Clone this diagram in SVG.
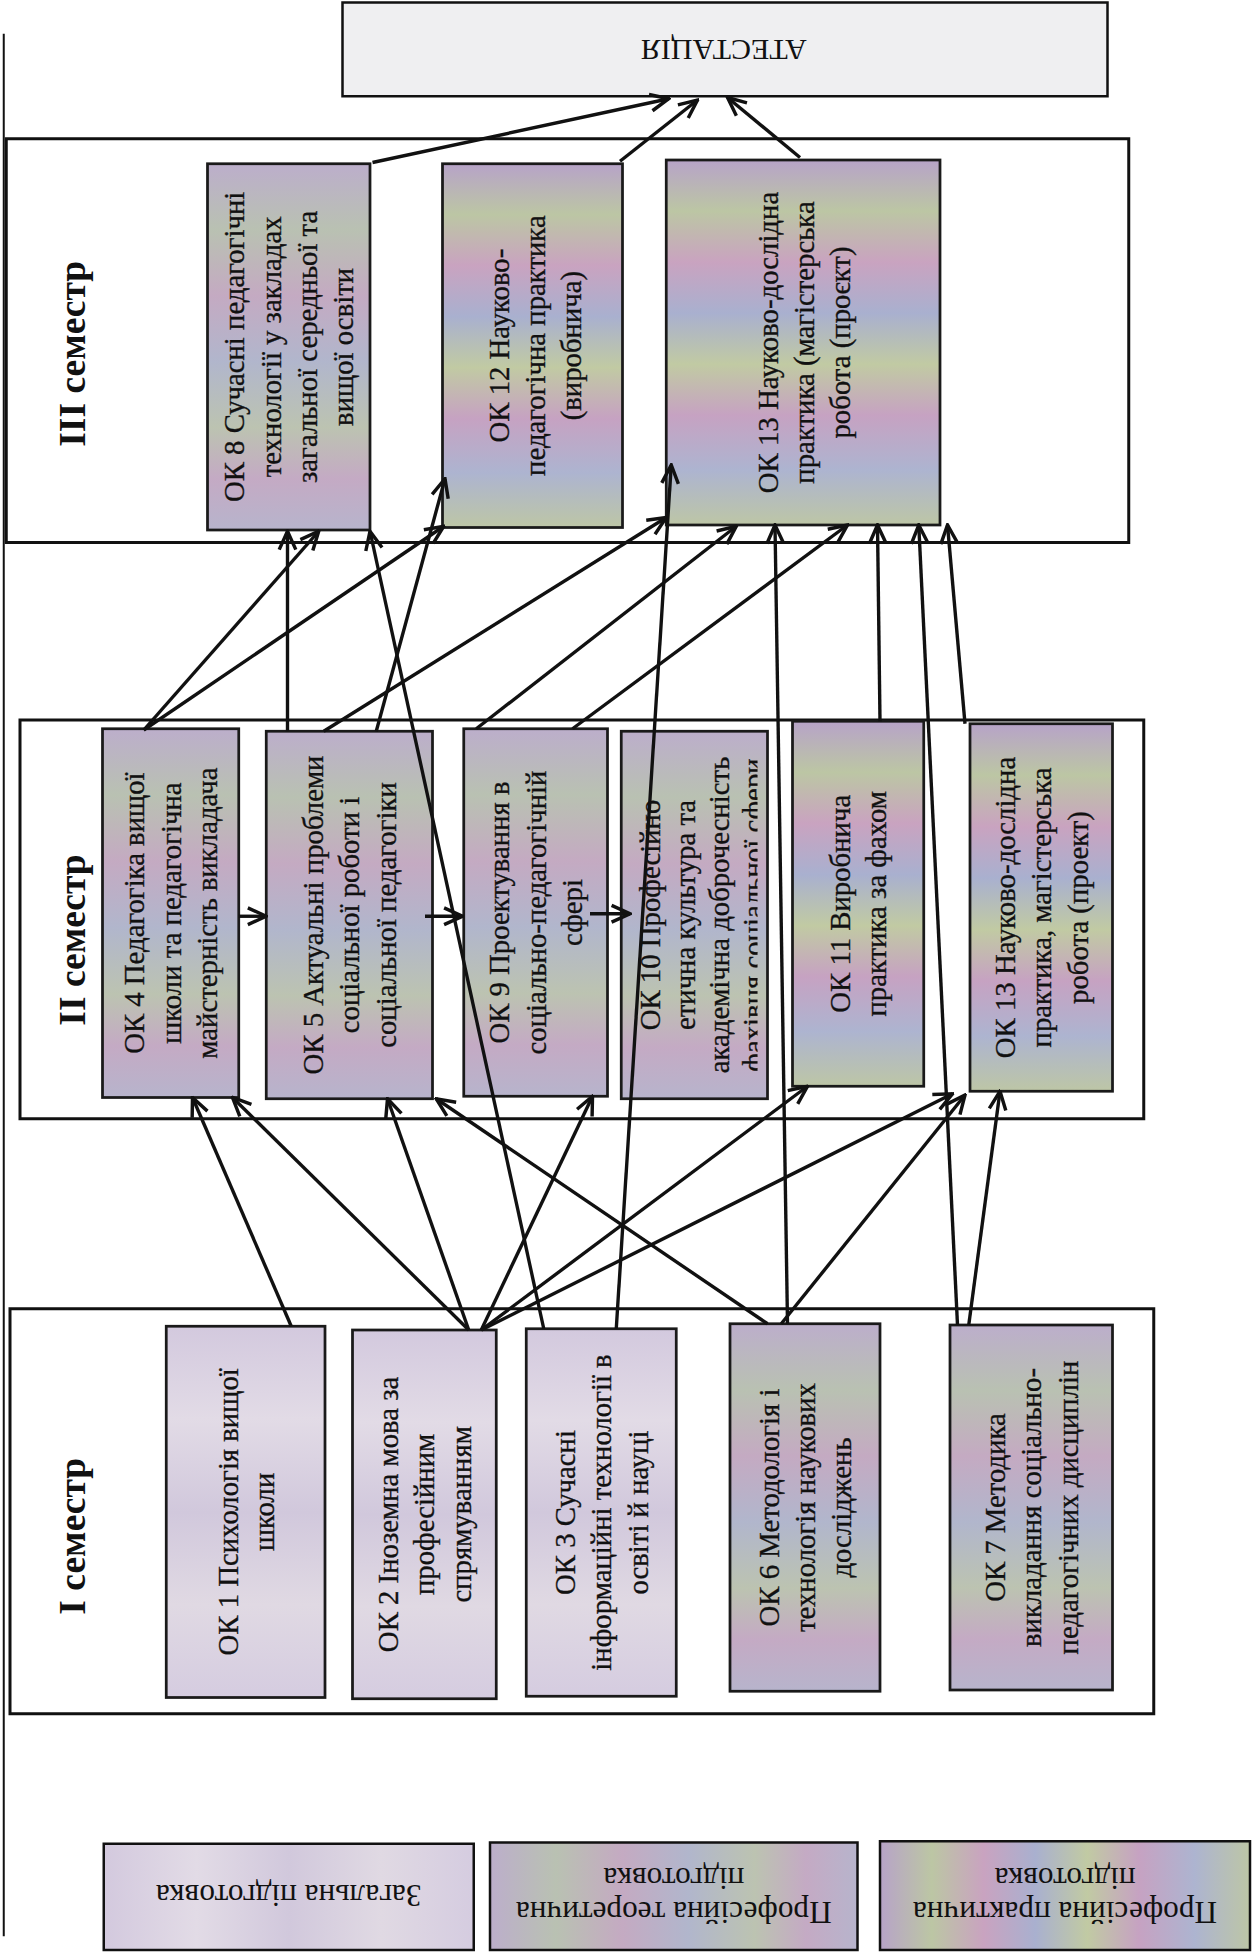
<svg xmlns="http://www.w3.org/2000/svg" width="1254" height="1953" viewBox="0 0 1254 1953">
<style>
.sem{fill:#ffffff;stroke:#111;stroke-width:2.4}
.nb{stroke:#1a1a1a;stroke-width:2.2}
.t{font-family:"Liberation Serif","Times New Roman",serif;font-size:23px;fill:#111;text-anchor:middle;stroke:#111;stroke-width:0.25}
.st{font-family:"Liberation Serif","Times New Roman",serif;font-size:30px;font-weight:bold;fill:#111;text-anchor:middle}
.lt{font-family:"Liberation Serif","Times New Roman",serif;font-size:25px;fill:#111;text-anchor:middle}
.c{stroke:#111;stroke-width:2.7;fill:none;marker-end:url(#ah)}
</style>
<defs>
<marker id="ah" markerUnits="userSpaceOnUse" viewBox="0 0 20 20" refX="18.5" refY="10" markerWidth="19" markerHeight="19" orient="auto">
<path d="M3,3 L18.5,10 L3,17" fill="none" stroke="#111" stroke-width="2.9"/>
</marker>
<linearGradient id="gGen" x1="0" y1="0" x2="0" y2="1">
<stop offset="0" stop-color="#d3c9de"/><stop offset="0.25" stop-color="#e2dbe6"/><stop offset="0.5" stop-color="#d1c8dc"/><stop offset="0.75" stop-color="#e0d9e3"/><stop offset="1" stop-color="#d5cce0"/>
</linearGradient>
<linearGradient id="gTheo" x1="0" y1="0" x2="0" y2="1">
<stop offset="0" stop-color="#bcaecb"/><stop offset="0.18" stop-color="#b9c1b2"/><stop offset="0.36" stop-color="#c4aac2"/><stop offset="0.54" stop-color="#b1b6cc"/><stop offset="0.72" stop-color="#bcc3b1"/><stop offset="0.86" stop-color="#c4aac4"/><stop offset="1" stop-color="#b7b4cc"/>
</linearGradient>
<linearGradient id="gPrac" x1="0" y1="0" x2="0" y2="1">
<stop offset="0" stop-color="#b7a3c8"/><stop offset="0.14" stop-color="#bcc6a4"/><stop offset="0.28" stop-color="#c9a3c0"/><stop offset="0.42" stop-color="#a9b0cf"/><stop offset="0.56" stop-color="#c1caa3"/><stop offset="0.7" stop-color="#c6a2c2"/><stop offset="0.85" stop-color="#adb4d0"/><stop offset="1" stop-color="#bdc6a6"/>
</linearGradient>
<linearGradient id="gGenH" href="#gGen" x1="0" y1="0" x2="1" y2="0"/>
<linearGradient id="gTheoH" href="#gTheo" x1="0" y1="0" x2="1" y2="0"/>
<linearGradient id="gPracH" href="#gPrac" x1="0" y1="0" x2="1" y2="0"/>
<clipPath id="clip10"><rect x="497" y="585" width="109" height="294"/></clipPath>
</defs>
<rect x="0" y="0" width="1254" height="1953" fill="#ffffff"/>
<g transform="scale(1.25)">
<line id="leftrule" x1="3" y1="27" x2="3" y2="1549" stroke="#111" stroke-width="1.6"/>

<g id="atestatsiia">
<rect x="274" y="2" width="612" height="75" fill="#efeff1" stroke="#111" stroke-width="2"/>
<g transform="translate(579,40) rotate(180)"><text class="t" x="0" y="8" style="font-size:24px;stroke-width:0">АТЕСТАЦІЯ</text></g>
</g>

<g id="sem3">
<rect class="sem" x="5" y="111" width="898" height="323"/>
<g transform="translate(58,283) rotate(-90)"><text class="st" x="0" y="10">III семестр</text></g>
</g>
<g id="sem2">
<rect class="sem" x="16" y="576" width="899" height="319"/>
<g transform="translate(58,752) rotate(-90)"><text class="st" x="0" y="10">II семестр</text></g>
</g>
<g id="sem1">
<rect class="sem" x="8" y="1047" width="915" height="324"/>
<g transform="translate(58,1229) rotate(-90)"><text class="st" x="0" y="10">I семестр</text></g>
</g>

<g id="ok8">
<rect class="nb" x="166" y="131" width="130" height="293" fill="url(#gTheo)"/>
<g transform="translate(231,277.5) rotate(-90)"><text class="t"><tspan x="0" y="-35.5">ОК 8 Сучасні педагогічні</tspan><tspan x="0" y="-6.5">технології у закладах</tspan><tspan x="0" y="22.5">загальної середньої та</tspan><tspan x="0" y="51.5">вищої освіти</tspan></text></g>
</g>
<g id="ok12">
<rect class="nb" x="354" y="131" width="144" height="291" fill="url(#gPrac)"/>
<g transform="translate(428,276.5) rotate(-90)"><text class="t"><tspan x="0" y="-21">ОК 12 Науково-</tspan><tspan x="0" y="8">педагогічна практика</tspan><tspan x="0" y="37">(виробнича)</tspan></text></g>
</g>
<g id="ok13c">
<rect class="nb" x="533" y="128" width="219" height="292" fill="url(#gPrac)"/>
<g transform="translate(643,274) rotate(-90)"><text class="t"><tspan x="0" y="-21">ОК 13 Науково-дослідна</tspan><tspan x="0" y="8">практика (магістерська</tspan><tspan x="0" y="37">робота (проєкт)</tspan></text></g>
</g>

<g id="ok4">
<rect class="nb" x="82" y="583" width="109" height="295" fill="url(#gTheo)"/>
<g transform="translate(136.5,730.5) rotate(-90)"><text class="t"><tspan x="0" y="-21">ОК 4 Педагогіка вищої</tspan><tspan x="0" y="8">школи та педагогічна</tspan><tspan x="0" y="37">майстерність викладача</tspan></text></g>
</g>
<g id="ok5">
<rect class="nb" x="213" y="585" width="133" height="294" fill="url(#gTheo)"/>
<g transform="translate(279.5,732) rotate(-90)"><text class="t"><tspan x="0" y="-21">ОК 5 Актуальні проблеми</tspan><tspan x="0" y="8">соціальної роботи і</tspan><tspan x="0" y="37">соціальної педагогіки</tspan></text></g>
</g>
<g id="ok9">
<rect class="nb" x="371" y="583" width="115" height="294" fill="url(#gTheo)"/>
<g transform="translate(428.5,730) rotate(-90)"><text class="t"><tspan x="0" y="-21">ОК 9 Проектування  в</tspan><tspan x="0" y="8">соціально-педагогічній</tspan><tspan x="0" y="37">сфері</tspan></text></g>
</g>
<g id="ok10">
<rect class="nb" x="497" y="585" width="117" height="294" fill="url(#gTheo)"/>
<g clip-path="url(#clip10)"><g transform="translate(555.5,732) rotate(-90)"><text class="t"><tspan x="0" y="-27.5">ОК 10 Професійно</tspan><tspan x="0" y="0.5">етична культура та</tspan><tspan x="0" y="27.5">академічна доброчесність</tspan><tspan x="0" y="54.5">фахівця соціальної сфери</tspan></text></g></g>
</g>
<g id="ok11">
<rect class="nb" x="634" y="577" width="105" height="292" fill="url(#gPrac)"/>
<g transform="translate(686.5,723) rotate(-90)"><text class="t"><tspan x="0" y="-6.5">ОК 11 Виробнича</tspan><tspan x="0" y="22.5">практика за фахом</tspan></text></g>
</g>
<g id="ok13b">
<rect class="nb" x="776" y="579" width="114" height="294" fill="url(#gPrac)"/>
<g transform="translate(833,726) rotate(-90)"><text class="t"><tspan x="0" y="-21">ОК 13 Науково-дослідна</tspan><tspan x="0" y="8">практика, магістерська</tspan><tspan x="0" y="37">робота (проект)</tspan></text></g>
</g>

<g id="ok1">
<rect class="nb" x="133" y="1061" width="127" height="297" fill="url(#gGen)"/>
<g transform="translate(196.5,1209.5) rotate(-90)"><text class="t"><tspan x="0" y="-6.5">ОК 1 Психологія вищої</tspan><tspan x="0" y="22.5">школи</tspan></text></g>
</g>
<g id="ok2">
<rect class="nb" x="282" y="1064" width="115" height="295" fill="url(#gGen)"/>
<g transform="translate(339.5,1211.5) rotate(-90)"><text class="t"><tspan x="0" y="-21">ОК 2 Іноземна мова за</tspan><tspan x="0" y="8">професійним</tspan><tspan x="0" y="37">спрямуванням</tspan></text></g>
</g>
<g id="ok3">
<rect class="nb" x="421" y="1063" width="120" height="294" fill="url(#gGen)"/>
<g transform="translate(481,1210) rotate(-90)"><text class="t"><tspan x="0" y="-21">ОК 3 Сучасні</tspan><tspan x="0" y="8">інформаційні технології в</tspan><tspan x="0" y="37">освіті й науці</tspan></text></g>
</g>
<g id="ok6">
<rect class="nb" x="584" y="1059" width="120" height="294" fill="url(#gTheo)"/>
<g transform="translate(644,1206) rotate(-90)"><text class="t"><tspan x="0" y="-21">ОК 6 Методологія і</tspan><tspan x="0" y="8">технологія наукових</tspan><tspan x="0" y="37">досліджень</tspan></text></g>
</g>
<g id="ok7">
<rect class="nb" x="760" y="1060" width="130" height="292" fill="url(#gTheo)"/>
<g transform="translate(825,1206) rotate(-90)"><text class="t"><tspan x="0" y="-21">ОК 7 Методика</tspan><tspan x="0" y="8">викладання соціально-</tspan><tspan x="0" y="37">педагогічних дисциплін</tspan></text></g>
</g>

<g id="legend-general">
<rect x="83" y="1475" width="296" height="85" fill="url(#gGenH)" stroke="#111" stroke-width="2"/>
<g transform="translate(231,1516) rotate(180)"><text class="lt" x="0" y="8">Загальна підготовка</text></g>
</g>
<g id="legend-theory">
<rect x="392" y="1474" width="294" height="86" fill="url(#gTheoH)" stroke="#111" stroke-width="2"/>
<g transform="translate(539,1516) rotate(180)"><text class="lt"><tspan x="0" y="-5.5">Професійна теоретична</tspan><tspan x="0" y="21.5">підготовка</tspan></text></g>
</g>
<g id="legend-practice">
<rect x="704" y="1473" width="296" height="87" fill="url(#gPracH)" stroke="#111" stroke-width="2"/>
<g transform="translate(852,1516) rotate(180)"><text class="lt"><tspan x="0" y="-5.5">Професійна практична</tspan><tspan x="0" y="21.5">підготовка</tspan></text></g>
</g>

<g id="connectors">
<line class="c" x1="298" y1="130" x2="535" y2="79"/>
<line class="c" x1="496" y1="129" x2="558" y2="80"/>
<line class="c" x1="640" y1="126" x2="582" y2="78"/>
<line class="c" x1="115" y1="584" x2="255" y2="425"/>
<line class="c" x1="115" y1="584" x2="355" y2="421"/>
<line class="c" x1="230" y1="585" x2="230" y2="425"/>
<line class="c" x1="259" y1="585" x2="533" y2="414"/>
<line class="c" x1="301" y1="585" x2="356" y2="383"/>
<line class="c" x1="381" y1="583" x2="589" y2="421"/>
<line class="c" x1="458" y1="583" x2="678" y2="420"/>
<line class="c" x1="704" y1="577" x2="702" y2="420"/>
<line class="c" x1="772" y1="579" x2="758" y2="420"/>
<line class="c" x1="435" y1="1063" x2="296" y2="425"/>
<line class="c" x1="493" y1="1063" x2="537" y2="372"/>
<line class="c" x1="630" y1="1059" x2="620" y2="420"/>
<line class="c" x1="766" y1="1060" x2="735" y2="420"/>
<line class="c" x1="233" y1="1061" x2="154" y2="878"/>
<line class="c" x1="375" y1="1064" x2="186" y2="878"/>
<line class="c" x1="375" y1="1064" x2="310" y2="879"/>
<line class="c" x1="385" y1="1064" x2="474" y2="877"/>
<line class="c" x1="385" y1="1064" x2="646" y2="869"/>
<line class="c" x1="385" y1="1064" x2="762" y2="875"/>
<line class="c" x1="614" y1="1059" x2="349" y2="879"/>
<line class="c" x1="625" y1="1059" x2="772" y2="876"/>
<line class="c" x1="775" y1="1060" x2="800" y2="873"/>
<line class="c" x1="191" y1="733" x2="213" y2="733"/>
<line class="c" x1="340" y1="733" x2="370" y2="733"/>
<line class="c" x1="472" y1="731" x2="504" y2="731"/>
</g>
</g>
</svg>
